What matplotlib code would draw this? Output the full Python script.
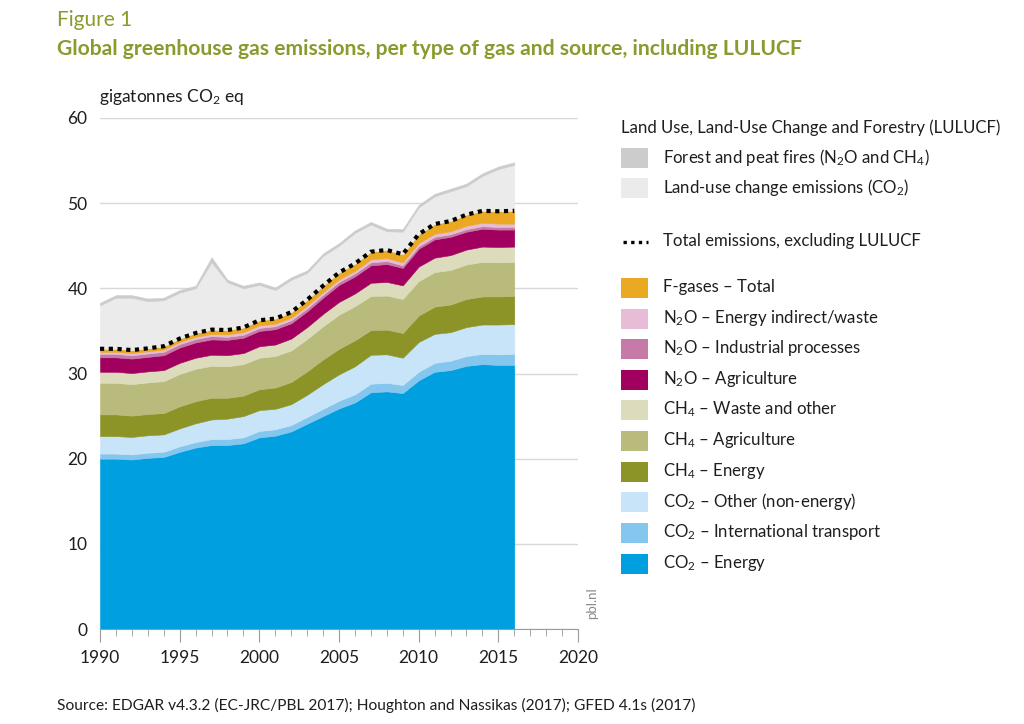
import matplotlib

matplotlib.use("Agg")
import matplotlib.pyplot as plt
from matplotlib.patches import Rectangle
from matplotlib.ticker import MultipleLocator
import numpy as np

plt.rcParams["font.family"] = ["Lato", "DejaVu Sans"]
plt.rcParams["mathtext.fontset"] = "custom"
plt.rcParams["mathtext.rm"] = "Lato"
plt.rcParams["mathtext.it"] = "Lato"
plt.rcParams["mathtext.bf"] = "Lato:bold"

# ─── data (gigatonnes CO2 eq) ───────────────────────────────
years = np.arange(1990, 2017)

co2_energy = [20.0, 20.0, 19.9, 20.1, 20.2, 20.8, 21.3, 21.6, 21.6, 21.8, 22.5, 22.7, 23.2, 24.1,
              25.0, 25.9, 26.6, 27.8, 27.9, 27.7, 29.2, 30.2, 30.4, 30.9, 31.1, 31.0, 31.0]
co2_intl = [0.6, 0.6, 0.6, 0.6, 0.6, 0.65, 0.65, 0.7, 0.7, 0.7, 0.75, 0.75, 0.75, 0.8,
            0.85, 0.9, 0.95, 1.0, 1.0, 0.95, 1.0, 1.05, 1.1, 1.15, 1.2, 1.25, 1.3]
co2_other = [2.05, 2.05, 2.05, 2.05, 2.05, 2.1, 2.2, 2.3, 2.4, 2.5, 2.45, 2.4, 2.45, 2.6,
             2.9, 3.1, 3.3, 3.4, 3.35, 3.2, 3.5, 3.4, 3.35, 3.4, 3.45, 3.5, 3.5]
ch4_energy = [2.55, 2.55, 2.5, 2.5, 2.5, 2.6, 2.6, 2.55, 2.45, 2.4, 2.45, 2.5, 2.6, 2.75,
              2.9, 3.0, 3.05, 2.9, 2.9, 2.9, 3.1, 3.2, 3.25, 3.3, 3.3, 3.3, 3.3]
ch4_agri = [3.7, 3.7, 3.7, 3.7, 3.75, 3.8, 3.8, 3.75, 3.7, 3.7, 3.7, 3.7, 3.7, 3.8,
            3.9, 4.0, 4.0, 4.0, 4.0, 4.0, 4.05, 4.05, 4.05, 4.05, 4.05, 4.0, 4.0]
ch4_waste = [1.3, 1.3, 1.3, 1.3, 1.3, 1.3, 1.3, 1.3, 1.3, 1.3, 1.35, 1.35, 1.4, 1.4,
             1.45, 1.5, 1.5, 1.55, 1.6, 1.6, 1.7, 1.7, 1.75, 1.75, 1.8, 1.8, 1.8]
n2o_agri = [1.7, 1.7, 1.7, 1.7, 1.75, 1.8, 1.8, 1.8, 1.8, 1.8, 1.8, 1.8, 1.8, 1.85,
            1.9, 2.0, 2.0, 2.05, 2.1, 2.05, 2.1, 2.15, 2.15, 2.1, 2.1, 2.05, 2.0]
n2o_ind = [0.4, 0.4, 0.4, 0.4, 0.4, 0.4, 0.4, 0.4, 0.35, 0.35, 0.35, 0.35, 0.35, 0.35,
           0.35, 0.35, 0.35, 0.35, 0.35, 0.3, 0.3, 0.3, 0.3, 0.3, 0.3, 0.3, 0.3]
n2o_waste = [0.25, 0.25, 0.25, 0.25, 0.25, 0.25, 0.25, 0.25, 0.3, 0.3, 0.3, 0.3, 0.3, 0.3,
             0.3, 0.3, 0.3, 0.35, 0.35, 0.35, 0.35, 0.35, 0.35, 0.4, 0.4, 0.4, 0.4]
f_gases = [0.35, 0.35, 0.35, 0.35, 0.4, 0.4, 0.45, 0.5, 0.5, 0.55, 0.6, 0.6, 0.65, 0.7,
           0.75, 0.8, 0.85, 0.9, 0.95, 0.95, 1.05, 1.15, 1.2, 1.3, 1.4, 1.45, 1.5]
luc_co2 = [5.1, 6.0, 6.15, 5.55, 5.4, 5.4, 5.25, 7.9, 5.6, 4.6, 4.15, 3.35, 3.8, 3.15,
           3.5, 3.15, 3.6, 3.2, 2.2, 2.65, 3.15, 3.25, 3.5, 3.35, 4.1, 4.95, 5.4]
fires = [0.3, 0.3, 0.3, 0.3, 0.3, 0.3, 0.3, 0.6, 0.3, 0.3, 0.3, 0.3, 0.3, 0.3,
         0.3, 0.3, 0.3, 0.3, 0.3, 0.3, 0.3, 0.3, 0.3, 0.3, 0.3, 0.3, 0.3]

# bottom → top
gas_series = [co2_energy, co2_intl, co2_other, ch4_energy, ch4_agri, ch4_waste,
              n2o_agri, n2o_ind, n2o_waste, f_gases]
gas_labels = [
    "CO$_2$ – Energy", "CO$_2$ – International transport", "CO$_2$ – Other (non-energy)",
    "CH$_4$ – Energy", "CH$_4$ – Agriculture", "CH$_4$ – Waste and other",
    "N$_2$O – Agriculture", "N$_2$O – Industrial processes", "N$_2$O – Energy indirect/waste",
    "F-gases – Total",
]
gas_colors = ["#009fe0", "#85c6ef", "#c8e4f8", "#8c9428", "#b8bb7b", "#dcdcbc",
              "#a2005e", "#c57aa7", "#e6bcd6", "#eaa823"]
lulucf_series = [luc_co2, fires]
lulucf_labels = ["Land-use change emissions (CO$_2$)", "Forest and peat fires (N$_2$O and CH$_4$)"]
lulucf_colors = ["#ebebeb", "#cccccc"]

TXT = "#1e1e1e"
OLIVE = "#8a9a2c"

fig = plt.figure(figsize=(10.24, 7.24), dpi=100)
ax = fig.add_axes([100 / 1024, 95 / 724, 478 / 1024, 511 / 724])

ax.stackplot(years, *gas_series, *lulucf_series,
             colors=gas_colors + lulucf_colors, linewidth=0.4,
             edgecolor="face", zorder=2)
total = np.sum(np.array(gas_series), axis=0)
ax.plot(years, total, color="black", linestyle=(0, (1, 1.1)), linewidth=3.0, zorder=3)

ax.set_xlim(1990, 2020)
ax.set_ylim(0, 60)
ax.set_yticks(range(0, 61, 10))
ax.xaxis.set_major_locator(MultipleLocator(5))
ax.xaxis.set_minor_locator(MultipleLocator(1))
for s in ("top", "right", "left"):
    ax.spines[s].set_visible(False)
ax.spines["bottom"].set_color("#9a9a9a")
ax.spines["bottom"].set_zorder(4)
ax.yaxis.grid(True, color="#d8d8d8", linewidth=1)
ax.set_axisbelow(True)
ax.tick_params(axis="y", length=0, pad=9, labelsize=12.5, labelcolor=TXT)
ax.tick_params(axis="x", which="major", length=9, color="#9a9a9a", pad=6,
               labelsize=12.5, labelcolor=TXT)
ax.tick_params(axis="x", which="minor", length=5, color="#9a9a9a")

# ─── texts and legend drawn in pixel coordinates ──────────
pax = fig.add_axes([0, 0, 1, 1], zorder=5)
pax.set_xlim(0, 1024)
pax.set_ylim(724, 0)
pax.set_axis_off()

pax.text(57, 20, "Figure 1", fontsize=15, color=OLIVE, va="center", ha="left")
pax.text(57, 49, "Global greenhouse gas emissions, per type of gas and source, including LULUCF",
         fontsize=15.25, fontweight="bold", color=OLIVE, va="center", ha="left")
pax.text(99, 97, "gigatonnes CO$_2$ eq", fontsize=12.5, color=TXT, va="center", ha="left")
pax.text(57, 705, "Source: EDGAR v4.3.2 (EC-JRC/PBL 2017); Houghton and Nassikas (2017); GFED 4.1s (2017)",
         fontsize=11.2, color=TXT, va="center", ha="left")
pax.text(592, 603, "pbl.nl", fontsize=9.5, color="#8a8a8a", rotation=90, va="center", ha="center")

sw_x, sw_w, sw_h, txt_x = 621, 27, 20, 663
pax.text(621, 128, "Land Use, Land-Use Change and Forestry (LULUCF)", fontsize=12.1,
         color=TXT, va="center", ha="left")
legend_rows = [(158, lulucf_labels[1], lulucf_colors[1]),
               (188, lulucf_labels[0], lulucf_colors[0])]
gas_rows_y = [564, 533, 502, 472, 441, 410, 380, 349, 319, 288]
legend_rows += list(zip(gas_rows_y, gas_labels, gas_colors))
for y, lab, col in legend_rows:
    pax.add_patch(Rectangle((sw_x, y - sw_h / 2), sw_w, sw_h, facecolor=col, edgecolor="none"))
    pax.text(txt_x, y - 1, lab, fontsize=12.1, color=TXT, va="center", ha="left")
pax.plot([sw_x + 2, sw_x + sw_w], [242, 242], color="black", linestyle=(0, (1, 1.3)), linewidth=2.4)
pax.text(txt_x, 241, "Total emissions, excluding LULUCF", fontsize=12.1, color=TXT,
         va="center", ha="left")

fig.savefig("out.png", dpi=100)
